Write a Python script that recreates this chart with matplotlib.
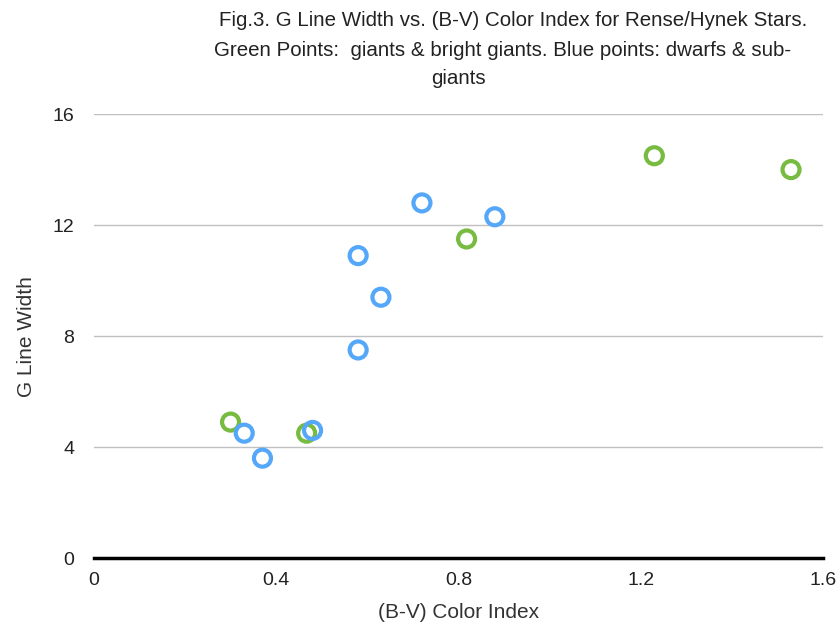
import matplotlib.pyplot as plt

# Data
giants_bv = [0.30, 0.467, 0.818, 1.23, 1.53]
giants_g = [4.9, 4.5, 11.5, 14.5, 14.0]

dwarfs_bv = [0.33, 0.37, 0.48, 0.58, 0.58, 0.63, 0.72, 0.88]
dwarfs_g = [4.5, 3.6, 4.6, 10.9, 7.5, 9.4, 12.8, 12.3]

x_ticks = [0, 0.4, 0.8, 1.2, 1.6]
x_tick_labels = ['0', '0.4', '0.8', '1.2', '1.6']
y_ticks = [0, 4, 8, 12, 16]

title_lines = ['Fig.3. G Line Width vs. (B-V) Color Index for Rense/Hynek Stars.',
               'Green Points:  giants & bright giants. Blue points: dwarfs & sub-',
               'giants']

plt.rcParams['font.family'] = ['Liberation Sans Narrow', 'Liberation Sans', 'DejaVu Sans']

fig = plt.figure(figsize=(8.38, 6.27), dpi=100)
ax = fig.add_axes([0.112, 0.110, 0.870, 0.708])

ax.scatter(giants_bv, giants_g, s=150, facecolors='none', edgecolors='#77bb41',
           linewidths=3, zorder=3)
ax.scatter(dwarfs_bv, dwarfs_g, s=150, facecolors='none', edgecolors='#54a7f9',
           linewidths=3, zorder=4)

ax.set_xlim(0, 1.6)
ax.set_ylim(0, 16)
ax.set_xticks(x_ticks)
ax.set_xticklabels(x_tick_labels)
ax.set_yticks(y_ticks)

ax.grid(axis='y', color='#c0c0c0', linewidth=1)
ax.set_axisbelow(True)
for s in ['top', 'right', 'left']:
    ax.spines[s].set_visible(False)
ax.spines['bottom'].set_linewidth(2.5)
ax.spines['bottom'].set_color('black')
ax.tick_params(length=0, labelsize=14, colors='#222222', pad=10)
ax.tick_params(axis='y', pad=14)

ax.set_xlabel('(B-V) Color Index', fontsize=15, color='#333333', labelpad=10)
ax.set_ylabel('G Line Width', fontsize=15, color='#333333', labelpad=12)

# titre en trois lignes, comme sur l'original
fig.text(513 / 838, 1 - 20 / 627, title_lines[0], ha='center', va='center', fontsize=14.8, color='#222222')
fig.text(503 / 838, 1 - 50 / 627, title_lines[1], ha='center', va='center', fontsize=14.8, color='#222222')
fig.text(458 / 838, 1 - 78 / 627, title_lines[2], ha='center', va='center', fontsize=14.8, color='#222222')

fig.savefig('out.png', dpi=100)
